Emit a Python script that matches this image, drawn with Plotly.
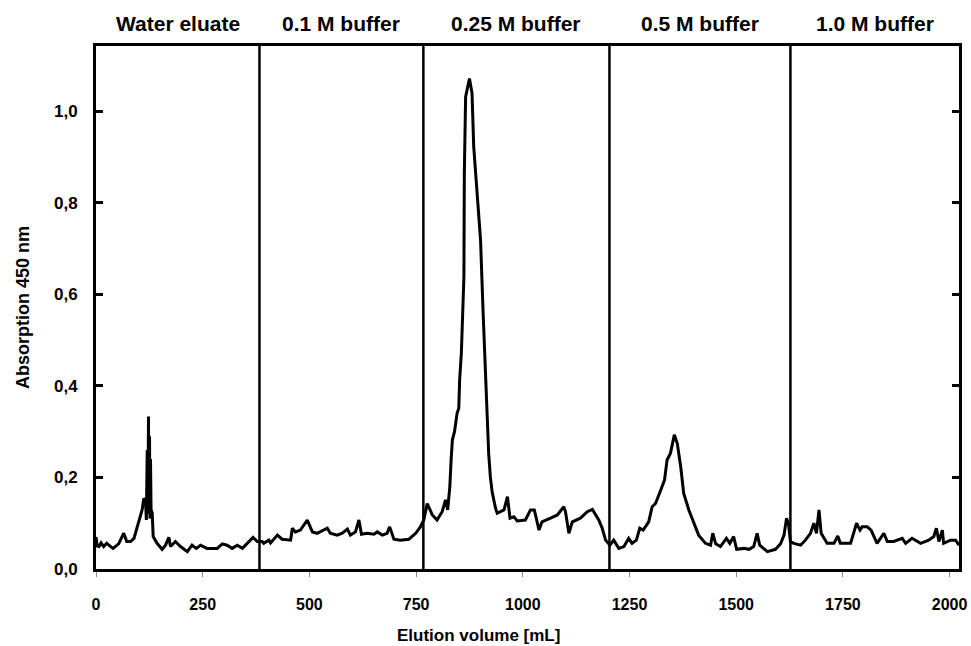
import plotly.graph_objects as go

# ---- data ----
volume_ml = [
    0, 3, 7, 12, 18, 25, 33, 40, 53, 65, 72, 81, 89, 97, 108, 112, 116, 118, 120, 121.5,
    123, 124, 125.4, 126.5, 127.7, 129, 131.7, 134, 143, 155, 163, 170.6, 174.6, 186, 198,
    214, 225, 235, 245, 260, 284, 296, 307, 319, 331, 343, 354, 368, 378, 389,
    393, 405, 409, 425, 436, 456, 460, 467, 479, 495, 507, 518, 542, 549, 565, 577, 589,
    596, 608, 616, 622, 635, 651, 659, 671, 682, 688, 698, 713, 733, 749, 760, 768, 776,
    788, 799, 811, 819, 824, 829, 832, 835, 840, 846, 850, 852, 856, 860, 862, 863, 866,
    875, 881, 885, 893, 901, 907, 909, 913, 917, 920, 924, 928, 936, 940, 956, 964, 970,
    979, 987, 1006, 1018, 1027, 1038, 1045, 1065, 1081, 1096, 1100, 1108, 1116, 1135,
    1151, 1163, 1170, 1178, 1186, 1194, 1204,
    1213, 1225, 1237, 1248, 1256, 1266, 1274, 1282, 1295, 1303, 1311, 1323, 1332, 1338,
    1346, 1355, 1362, 1370, 1377, 1389, 1401, 1412, 1428, 1440, 1445, 1452, 1463, 1477,
    1485, 1494, 1501, 1518, 1530, 1541, 1549, 1555, 1573, 1592, 1604, 1612, 1618, 1623, 1627,
    1635, 1651, 1662, 1674, 1682, 1688, 1694, 1699, 1713, 1729, 1738, 1744, 1768, 1782,
    1790, 1795, 1807, 1816, 1830, 1846, 1854, 1869, 1889, 1897, 1912, 1932, 1951, 1963,
    1969, 1975, 1983, 1986, 2002, 2014, 2022,
]
absorption_450 = [
    0.070, 0.050, 0.049, 0.057, 0.049, 0.056, 0.050, 0.045, 0.055, 0.078, 0.060, 0.060,
    0.067, 0.092, 0.129, 0.154, 0.150, 0.107, 0.260, 0.120, 0.333, 0.125, 0.290, 0.110,
    0.240, 0.130, 0.122, 0.071, 0.056, 0.043, 0.052, 0.069, 0.049, 0.060, 0.049, 0.038,
    0.052, 0.045, 0.052, 0.045, 0.045, 0.055, 0.052, 0.045, 0.052, 0.045, 0.055, 0.069,
    0.060, 0.060,
    0.056, 0.063, 0.057, 0.074, 0.065, 0.063, 0.089, 0.081, 0.085, 0.107, 0.081, 0.078,
    0.089, 0.078, 0.074, 0.078, 0.087, 0.074, 0.081, 0.107, 0.076, 0.078, 0.076, 0.081,
    0.074, 0.078, 0.092, 0.065, 0.063, 0.065, 0.078, 0.092, 0.107, 0.143, 0.118, 0.107,
    0.125, 0.151, 0.129, 0.180, 0.238, 0.282, 0.300, 0.340, 0.351, 0.413, 0.471, 0.566,
    0.638, 0.864, 1.031, 1.071, 1.039, 0.922, 0.828, 0.718, 0.560, 0.515, 0.420, 0.303,
    0.253, 0.201, 0.169, 0.133, 0.122, 0.129, 0.158, 0.111, 0.114, 0.105, 0.107, 0.129,
    0.129, 0.085, 0.103, 0.111, 0.118, 0.136, 0.125, 0.078, 0.103, 0.111, 0.125, 0.130,
    0.118, 0.107, 0.089, 0.063, 0.052,
    0.063, 0.045, 0.049, 0.067, 0.056, 0.063, 0.089, 0.085, 0.103, 0.136, 0.143, 0.172,
    0.194, 0.238, 0.253, 0.293, 0.274, 0.223, 0.165, 0.129, 0.100, 0.074, 0.056, 0.052,
    0.078, 0.055, 0.049, 0.067, 0.056, 0.071, 0.043, 0.045, 0.043, 0.049, 0.078, 0.052,
    0.038, 0.043, 0.055, 0.074, 0.111, 0.096, 0.060,
    0.056, 0.052, 0.063, 0.078, 0.100, 0.078, 0.129, 0.078, 0.056, 0.056, 0.072, 0.056,
    0.056, 0.100, 0.085, 0.092, 0.092, 0.085, 0.056, 0.078, 0.060, 0.060, 0.067, 0.056,
    0.067, 0.056, 0.063, 0.071, 0.089, 0.060, 0.085, 0.056, 0.063, 0.063, 0.052,
]

fraction_boundaries = [0, 383, 767, 1203, 1627, 2022]
fraction_labels = ["Water eluate", "0.1 M buffer", "0.25 M buffer", "0.5 M buffer", "1.0 M buffer"]
x_ticks = [0, 250, 500, 750, 1000, 1250, 1500, 1750, 2000]
y_ticks = [0.0, 0.2, 0.4, 0.6, 0.8, 1.0]

FONT = "Liberation Sans, Arial, sans-serif"

fig = go.Figure()
fig.add_trace(go.Scatter(
    x=volume_ml, y=absorption_450, mode="lines",
    line=dict(color="black", width=3), showlegend=False, hoverinfo="skip",
))

# vertical separators between fractions (inner boundaries)
for b in fraction_boundaries[1:-1]:
    fig.add_shape(type="line", x0=b, x1=b, y0=0, y1=1, xref="x", yref="y domain",
                  line=dict(color="black", width=2.5))

# fraction labels above the plot
for i, lab in enumerate(fraction_labels):
    mid = (fraction_boundaries[i] + fraction_boundaries[i + 1]) / 2
    fig.add_annotation(x=mid, y=1, xref="x", yref="paper", yanchor="bottom",
                       yshift=9, text=lab, showarrow=False,
                       font=dict(family=FONT, size=21, color="black", weight="bold"))

# x-axis title (placed like the reference, left of centre)
fig.add_annotation(x=0.443, y=0, xref="paper", yref="paper", yanchor="middle",
                   yshift=-66, text="Elution volume [mL]", showarrow=False,
                   font=dict(family=FONT, size=17, color="black", weight="bold"))

fig.update_layout(
    width=971, height=646,
    margin=dict(l=96, r=12, t=46, b=77),
    paper_bgcolor="white", plot_bgcolor="white",
    separators=",.",
    font=dict(family=FONT, color="black"),
)
fig.update_xaxes(
    range=[0, 2022], tickvals=x_ticks, ticks="outside", ticklen=5, tickwidth=1,
    tickcolor="#888", showgrid=False, zeroline=False, automargin=False,
    showline=True, linecolor="black", linewidth=3, mirror=True,
    ticklabelstandoff=14,
    tickfont=dict(family=FONT, size=16, color="black", weight="bold"),
)
fig.update_yaxes(
    range=[0, 1.142], tickvals=y_ticks, tickformat=".1f", ticks="inside", ticklen=7,
    tickwidth=2.5, tickcolor="black", showgrid=False, zeroline=False, automargin=False,
    showline=True, linecolor="black", linewidth=3, mirror="ticks",
    ticklabelstandoff=12,
    tickfont=dict(family=FONT, size=17, color="black", weight="bold"),
    title=dict(text="Absorption 450 nm", standoff=20,
               font=dict(family=FONT, size=18, color="black", weight="bold")),
)

fig.write_html("out.html", config={"displayModeBar": False},
               post_script="document.body.style.margin='0';document.body.style.padding='0';")
